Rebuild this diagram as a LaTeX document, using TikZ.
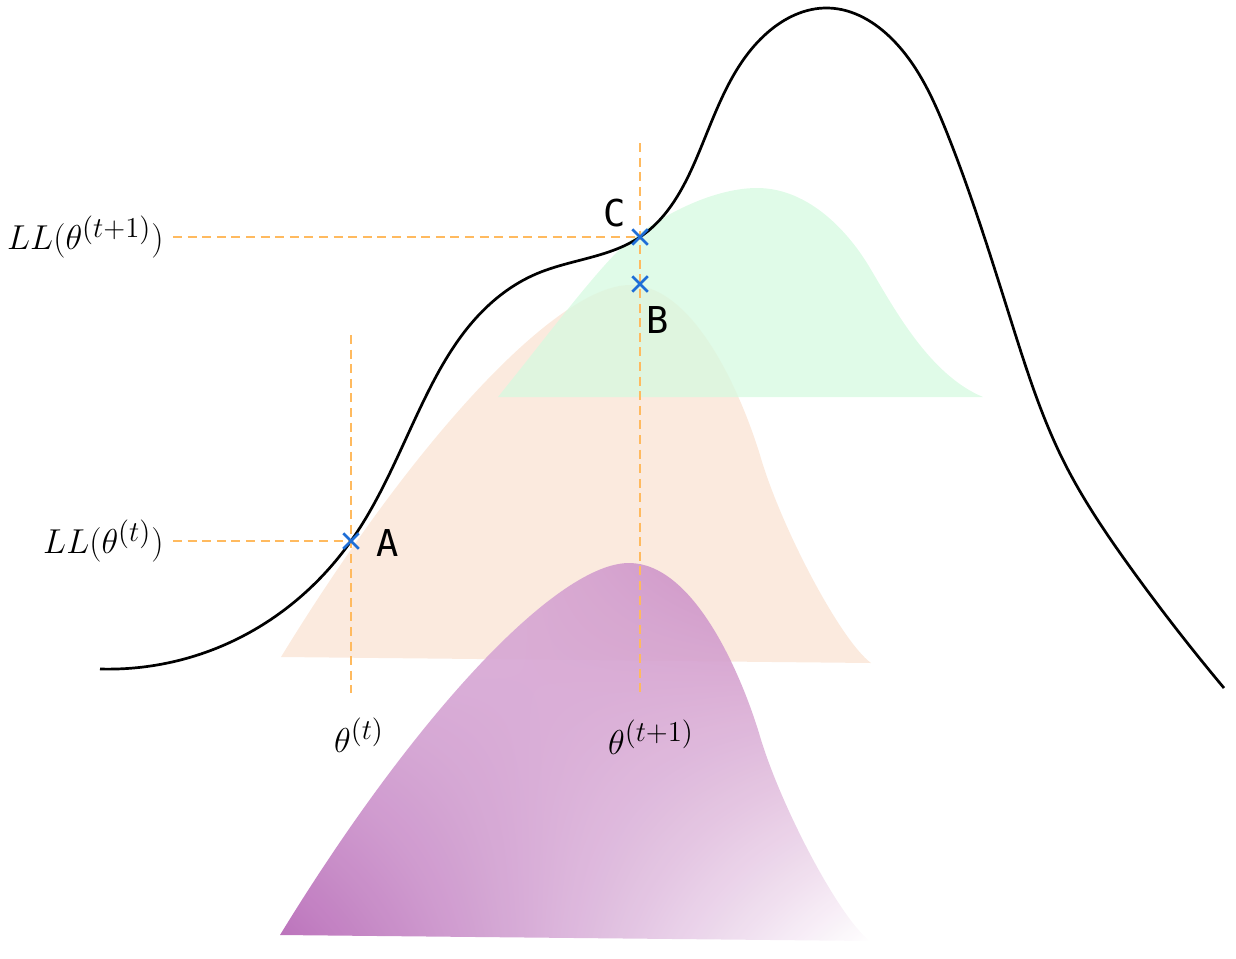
\documentclass[tikz,border=0pt]{standalone}
\usepackage{fontspec}
\newfontfamily\labfont{DejaVu Sans Mono}
\usetikzlibrary{shapes.misc,shadings,hobby}
\definecolor{beige}{RGB}{251,234,222}
\definecolor{mint}{RGB}{214,250,224}
\definecolor{dashorange}{RGB}{255,186,95}
\definecolor{crossblue}{RGB}{30,110,215}
\definecolor{purpA}{RGB}{182,104,182}
\definecolor{purpB}{RGB}{198,128,188}
\definecolor{purpC}{RGB}{228,196,228}
\newcommand\myDensityShape{(281,-657) .. controls (420,-430) and (560,-285) .. (630,-285) .. controls (693,-285) and (740,-390) .. (760,-455) .. controls (780,-525) and (840,-640) .. (871,-663) -- cycle}
\tikzset{
  guide/.style={draw=dashorange, line width=1.15pt, dash pattern=on 4.5pt off 2.8pt},
  crossmark/.style={cross out, draw=crossblue, line width=1.25pt, minimum size=6.5pt, inner sep=0pt},
  ptlabel/.style={font=\labfont\fontsize{18.5}{18.5}\selectfont, text=black},
  mathlabel/.style={font=\fontsize{19}{22}\selectfont, inner sep=0pt},
  llcurve/.style={draw=black, line width=1.35pt},
}
\begin{document}
\begin{tikzpicture}[x=0.5pt, y=0.5pt]
\useasboundingbox (0,0) rectangle (1236,-958);
% beige density
\fill[beige] \myDensityShape;
% green density
\fill[mint, fill opacity=0.75] (498,-397) .. controls (540,-345) and (585,-285) .. (616,-253) .. controls (650,-220) and (710,-188) .. (757,-188) .. controls (810,-188) and (850,-234) .. (870,-268) .. controls (895,-310) and (930,-375) .. (983,-397) -- cycle;
% purple density with shading
\begin{scope}[shift={(-1,-278)}]
\shade[fill opacity=0.93, lower left=purpA, upper right=purpB, upper left=purpC, lower right=white] \myDensityShape;
\end{scope}
% log-likelihood curve
\draw[llcurve] (100,-669) to[curve through={(233,-641) (351,-541) (426,-396) (476,-318) (536,-274) (640,-237) (697,-157) (767,-33) (828,-8) (893,-40) (947,-133) (1013,-327) (1063,-460) (1130,-567)}] (1224,-688);
% coordinates
\coordinate (A) at (351,-541);
\coordinate (C) at (640,-237);
\coordinate (B) at (640,-284);
\coordinate (vtTop) at (351,-335);
\coordinate (vtBot) at (351,-693);
\coordinate (vtpTop) at (640,-143);
\coordinate (vtpBot) at (640,-697);
\coordinate (hC) at (173,-237);
\coordinate (hA) at (173,-541);
% guides
\draw[guide] (vtTop) -- (vtBot);
\draw[guide] (vtpTop) -- (vtpBot);
\draw[guide] (hC) -- (C);
\draw[guide] (hA) -- (A);
% crosses
\node[crossmark] (xA) at (A) {};
\node[crossmark] (xB) at (B) {};
\node[crossmark] (xC) at (C) {};
% point labels
\node[ptlabel] (lA) at (388,-543) {A};
\node[ptlabel] (lB) at (658,-320) {B};
\node[ptlabel] (lC) at (615,-213) {C};
% axis labels
\node[mathlabel, anchor=east] (llt1) at (164,-237) {$LL(\theta^{(t+1)})$};
\node[mathlabel, anchor=east] (llt) at (164,-541) {$LL(\theta^{(t)})$};
\node[mathlabel] (tht) at (359,-735) {$\theta^{(t)}$};
\node[mathlabel] (tht1) at (651,-737) {$\theta^{(t+1)}$};
\end{tikzpicture}
\end{document}
